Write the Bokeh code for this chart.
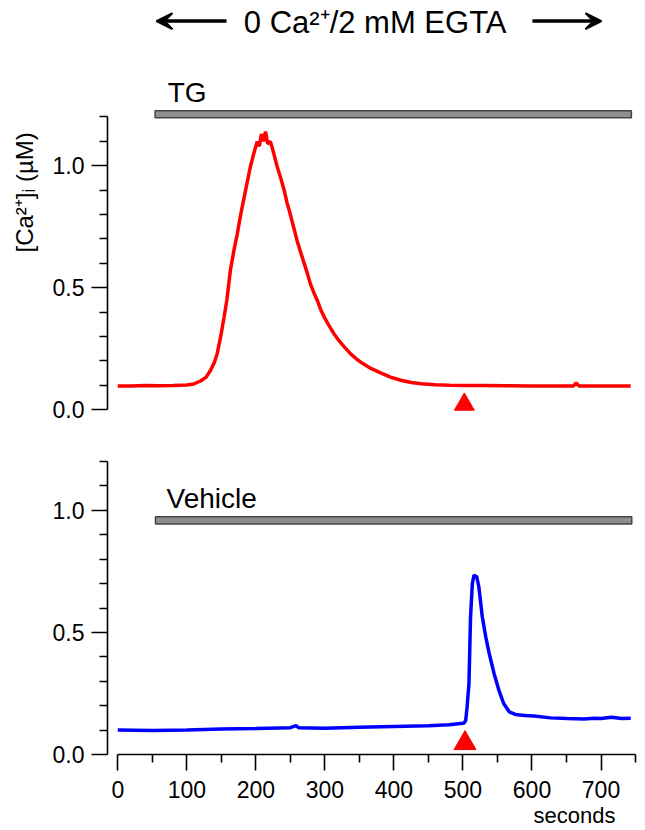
from bokeh.plotting import figure
from bokeh.models import Range1d, FixedTicker, PrintfTickFormatter, Label, Arrow, VeeHead, ColumnDataSource, Title
from bokeh.layouts import column
from bokeh.embed import file_html
from bokeh.resources import INLINE

# ---------------- data ----------------
tg_time = [0, 20, 40, 60, 80, 100, 110, 120, 128, 134, 140, 144, 149, 154, 158, 163, 168, 173,
           178, 183, 188, 192, 197, 202, 205, 208, 211, 214, 217, 221, 226, 231, 236, 241, 245,
           250, 255, 260, 265, 270, 275, 279, 284, 289, 294, 299, 306, 313, 320, 328, 337, 345,
           352, 365, 380, 395, 410, 425, 440, 460, 480, 500, 530, 560, 600, 640, 660, 664, 668,
           700, 743]
tg_ca = [0.098, 0.097, 0.100, 0.099, 0.100, 0.102, 0.106, 0.118, 0.134, 0.160, 0.195, 0.230, 0.300,
         0.380, 0.450, 0.570, 0.650, 0.720, 0.800, 0.870, 0.940, 0.995, 1.050, 1.100, 1.080, 1.130,
         1.100, 1.140, 1.090, 1.100, 1.050, 0.995, 0.950, 0.900, 0.850, 0.800, 0.745, 0.690, 0.645,
         0.600, 0.555, 0.516, 0.480, 0.448, 0.410, 0.380, 0.345, 0.312, 0.285, 0.258, 0.230, 0.210,
         0.195, 0.172, 0.152, 0.134, 0.121, 0.112, 0.107, 0.103, 0.101, 0.100, 0.100, 0.099, 0.098,
         0.097, 0.098, 0.110, 0.098, 0.097, 0.097]

veh_time = [0, 50, 100, 150, 200, 250, 258, 262, 300, 350, 400, 450, 480, 500, 502, 504, 506, 508.7,
            511, 513.6, 516, 518, 520, 523, 528, 533, 538, 545, 552, 559, 567, 576, 590, 603, 627,
            651, 675, 690, 700, 715, 730, 743]
veh_ca = [0.100, 0.098, 0.100, 0.104, 0.106, 0.110, 0.118, 0.110, 0.108, 0.112, 0.115, 0.118, 0.122,
          0.128, 0.130, 0.140, 0.195, 0.290, 0.564, 0.700, 0.735, 0.730, 0.728, 0.687, 0.564, 0.482,
          0.414, 0.332, 0.264, 0.209, 0.175, 0.164, 0.160, 0.158, 0.150, 0.147, 0.145, 0.148, 0.147,
          0.153, 0.147, 0.148]

# drug application bars (start, end, level) and stimulus markers (time, level)
tg_bar = (54, 744, 1.211)
veh_bar = (54.6, 744.5, 0.959)
stim_tg = (502, 0.022)
stim_veh = (503, 0.046)

y_major = [0.0, 0.5, 1.0]
y_minor = [0.1, 0.2, 0.3, 0.4, 0.6, 0.7, 0.8, 0.9, 1.1, 1.2]
x_major = [0, 100, 200, 300, 400, 500, 600, 700]
x_minor = [50, 150, 250, 350, 450, 550, 650, 750]

FONT = "Liberation Sans"
BAR_FILL = "#8e8e8e"
BAR_LINE = "#454545"

X0, X1 = -14.92, 751.4


def make_fig(y0, y1, frame_h, b_top, b_bottom):
    p = figure(frame_width=529, frame_height=frame_h,
               x_range=Range1d(X0, X1), y_range=Range1d(y0, y1),
               output_backend="svg", toolbar_location=None,
               min_border_left=107, min_border_right=2,
               min_border_top=b_top, min_border_bottom=b_bottom)
    p.outline_line_color = None
    p.grid.visible = False
    p.background_fill_color = "white"
    p.border_fill_color = "white"
    ya = p.yaxis[0]
    ya.bounds = (0, 1.2)
    ya.ticker = FixedTicker(ticks=y_major, minor_ticks=y_minor)
    ya.formatter = PrintfTickFormatter(format="%.1f")
    ya.axis_line_width = 1.6
    ya.axis_line_color = "black"
    ya.major_tick_line_width = 1.6
    ya.minor_tick_line_width = 1.6
    ya.major_tick_in = 0
    ya.major_tick_out = 16
    ya.minor_tick_in = 0
    ya.minor_tick_out = 8
    ya.major_label_standoff = 7
    ya.major_label_text_font = FONT
    ya.major_label_text_font_size = "23px"
    ya.major_label_text_color = "black"
    return p


def add_bar(p, bar, h):
    src = ColumnDataSource(dict(left=[bar[0]], right=[bar[1]],
                                bottom=[bar[2] - h / 2], top=[bar[2] + h / 2]))
    p.quad(left="left", right="right", bottom="bottom", top="top", source=src,
           fill_color=BAR_FILL, line_color=BAR_LINE, line_width=1.5)


# ---------------- top panel (TG) ----------------
top = make_fig(-0.0275, -0.0275 + 408 / 244.0, 408, 8, 12)
top.xaxis.visible = False

top.line(tg_time, tg_ca, line_color="#ff0000", line_width=3.5)
add_bar(top, tg_bar, 0.029)
top.scatter([stim_tg[0]], [stim_tg[1]], marker="triangle", size=20,
            fill_color="#ff0000", line_color="#ff0000")

top.add_layout(Label(x=72.3, y=1.3016, text="TG", text_font=FONT, text_font_size="28px",
                     text_align="left", text_baseline="middle", text_color="black"))
top.add_layout(Label(x=372.8, y=1.587, text="0 Ca²⁺/2 mM EGTA", text_font=FONT,
                     text_font_size="31px", text_align="center", text_baseline="middle",
                     text_color="black"))
top.add_layout(Arrow(x_start=157.5, y_start=1.593, x_end=56, y_end=1.593,
                     line_width=3.5, line_color="black",
                     end=VeeHead(size=16, fill_color="black", line_color="black", line_width=2)))
top.add_layout(Arrow(x_start=600.6, y_start=1.593, x_end=700.6, y_end=1.593,
                     line_width=3.5, line_color="black",
                     end=VeeHead(size=16, fill_color="black", line_color="black", line_width=2)))
top.add_layout(Title(text="[Ca²⁺]ᵢ (µM)", align="left", offset=164, standoff=19,
                     vertical_align="top",
                     text_font=FONT, text_font_size="24px", text_font_style="normal",
                     text_color="black"), "left")

# ---------------- bottom panel (Vehicle) ----------------
bot = make_fig(0, 1.2, 293, 33, 66)
bot.line(veh_time, veh_ca, line_color="#0000ff", line_width=3.5)
add_bar(bot, veh_bar, 0.029)
bot.scatter([stim_veh[0]], [stim_veh[1]], marker="triangle", size=22,
            fill_color="#ff0000", line_color="#ff0000")
bot.add_layout(Label(x=70.6, y=1.0475, text="Vehicle", text_font=FONT, text_font_size="28px",
                     text_align="left", text_baseline="middle", text_color="black"))

xa = bot.xaxis[0]
xa.bounds = (0, 750)
xa.ticker = FixedTicker(ticks=x_major, minor_ticks=x_minor)
xa.axis_line_width = 1.6
xa.axis_line_color = "black"
xa.major_tick_line_width = 1.6
xa.minor_tick_line_width = 1.6
xa.major_tick_in = 0
xa.major_tick_out = 16
xa.minor_tick_in = 0
xa.minor_tick_out = 8
xa.major_label_standoff = 10
xa.major_label_text_font = FONT
xa.major_label_text_font_size = "23px"
xa.major_label_text_color = "black"
bot.add_layout(Title(text="seconds", align="right", offset=21, standoff=0,
                     text_font=FONT, text_font_size="22px", text_font_style="normal",
                     text_color="black"), "below")

layout = column(top, bot, spacing=0)
open("out.html", "w").write(file_html(layout, INLINE))
